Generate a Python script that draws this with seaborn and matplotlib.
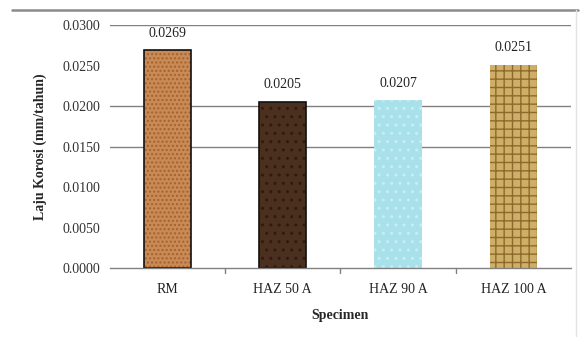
import matplotlib
matplotlib.use("Agg")
import matplotlib.pyplot as plt
import seaborn as sns
import pandas as pd
from matplotlib.patches import Rectangle
from matplotlib.lines import Line2D

# Corrosion rate per specimen
specimens = ["RM", "HAZ 50 A", "HAZ 90 A", "HAZ 100 A"]
rates = [0.0269, 0.0205, 0.0207, 0.0251]
rate_labels = ["0.0269", "0.0205", "0.0207", "0.0251"]
y_ticks = [0.0, 0.005, 0.010, 0.015, 0.020, 0.025, 0.030]
grid_levels = [0.015, 0.020, 0.030]

fill_colors = ["#c98a55", "#4b2f1f", "#a9e1ea", "#cfae68"]
hatch_colors = ["#a4622e", "#2f1b10", "#c7eef3", "#8c6a2c"]
hatches = ["....", "..", "..", "++"]
outline = [True, True, False, False]

sns.set_theme(style="white")
plt.rcParams["font.family"] = ["Liberation Serif", "DejaVu Serif"]

df = pd.DataFrame({"Specimen": specimens, "Rate": rates})

fig = plt.figure(figsize=(5.84, 3.37), dpi=100)
ax = fig.add_axes([0.188, 0.2047, 0.79, 0.7211])

sns.barplot(data=df, x="Specimen", y="Rate", hue="Specimen",
            palette=fill_colors, width=0.41, legend=False, ax=ax,
            saturation=1)

for patch, hc, h, ol in zip(ax.patches, hatch_colors, hatches, outline):
    patch.set_hatch(h)
    patch.set_edgecolor(hc)
    patch.set_linewidth(0)
    if ol:
        ax.add_patch(Rectangle((patch.get_x(), patch.get_y()),
                               patch.get_width(), patch.get_height(),
                               fill=False, edgecolor="#111111", lw=1.2,
                               zorder=patch.get_zorder() + 0.1))

for lvl in grid_levels:
    ax.axhline(lvl, color="#808080", lw=1.0, zorder=0.5)

for i, (v, lab) in enumerate(zip(rates, rate_labels)):
    ax.text(i, v + 0.0013, lab, ha="center", va="bottom",
            fontsize=10, color="#222222")

ax.set_ylim(0, 0.03)
ax.set_xlim(-0.5, 3.5)
ax.set_yticks(y_ticks)
ax.set_yticklabels([f"{t:.4f}" for t in y_ticks], fontsize=10, color="#333333")
ax.tick_params(axis="x", labelsize=10, colors="#222222", length=0, pad=11)
ax.tick_params(axis="y", length=0, pad=7)
for sep in [0.5, 1.5, 2.5]:
    ax.add_line(Line2D([sep, sep], [0, -0.0006], color="#808080", lw=1,
                       clip_on=False))

for side in ["left", "right", "top"]:
    ax.spines[side].set_visible(False)
ax.spines["bottom"].set_color("#808080")
ax.spines["bottom"].set_linewidth(1.0)

ax.set_xlabel("Specimen", fontsize=10, fontweight="bold", labelpad=9)
ax.set_ylabel("Laju Korosi (mm/tahun)", fontsize=10, fontweight="bold",
              labelpad=11)

# Chart frame
fig.add_artist(Line2D([12 / 584, 578 / 584], [1 - 10 / 337, 1 - 10 / 337],
                      color="#8a8a8a", lw=1.8, transform=fig.transFigure))
fig.add_artist(Line2D([576 / 584, 576 / 584], [1 - 10 / 337, 0.0],
                      color="#e2e2e2", lw=1.0, transform=fig.transFigure))

fig.savefig("out.png", dpi=100)
